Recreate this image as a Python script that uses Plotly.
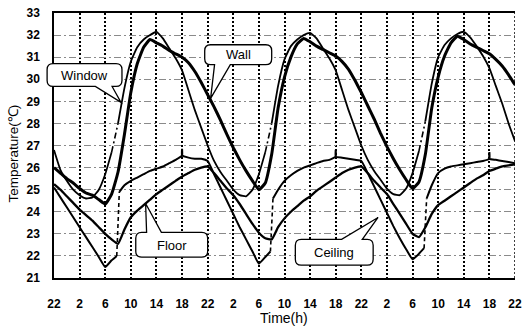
import plotly.graph_objects as go

# ---------------- data (hours from the first 22 h tick) ----------------
HOURS = list(range(73))

WINDOW = [26.8, 25.9, 25.4, 25.0, 24.75, 24.6, 24.65, 25.0, 25.7, 26.7, 28.0, 29.6,
          30.8, 31.45, 31.8, 32.0, 32.15, 31.85, 31.4, 30.95, 30.4, 29.5, 28.6, 27.8,
          27.0, 26.3, 25.8, 25.4, 25.0, 24.75, 24.7, 25.0, 25.7, 26.7, 28.0, 29.7,
          30.9, 31.5, 31.8, 32.0, 32.1, 31.85, 31.4, 30.95, 30.4, 29.5, 28.6, 27.8,
          27.0, 26.35, 25.85, 25.45, 25.05, 24.8, 24.75, 25.05, 25.75, 26.75, 28.1, 29.8,
          31.0, 31.55, 31.85, 32.05, 32.15, 31.9, 31.5, 31.05, 30.5, 29.7, 28.9, 28.0,
          27.2]

WALL = [26.0, 25.75, 25.5, 25.3, 25.05, 24.85, 24.75, 24.55, 24.35, 24.8, 25.8, 27.5,
        29.4, 30.7, 31.45, 31.8, 31.65, 31.5, 31.3, 31.15, 31.0, 30.75, 30.35, 29.85,
        29.3, 28.75, 28.15, 27.5, 26.9, 26.35, 25.85, 25.4, 25.0, 25.3, 26.6, 28.7,
        30.1, 31.0, 31.6, 31.85, 31.7, 31.5, 31.35, 31.2, 31.05, 30.8, 30.45, 29.95,
        29.4, 28.8, 28.2, 27.55, 26.95, 26.4, 25.9, 25.45, 25.05, 25.35, 26.6, 28.7,
        30.1, 31.05, 31.65, 31.95, 31.8, 31.6, 31.45, 31.3, 31.15, 30.9, 30.6, 30.2,
        29.75]

FLOOR = [25.25, 25.0, 24.7, 24.4, 24.1, 23.85, 23.6, 23.3, 23.0, 22.75, 22.55, 23.2,
         23.75, 24.05, 24.3, 24.55, 24.8, 25.0, 25.2, 25.4, 25.6, 25.75, 25.9, 26.0,
         26.05, 25.75, 25.4, 25.05, 24.75, 24.35, 23.9, 23.45, 23.05, 22.8, 22.75, 23.3,
         23.7, 24.0, 24.25, 24.5, 24.7, 24.95, 25.15, 25.35, 25.55, 25.75, 25.9, 26.0,
         26.05, 25.75, 25.4, 25.1, 24.8, 24.35, 23.9, 23.45, 23.0, 22.85, 23.3, 23.9,
         24.3, 24.5, 24.7, 24.9, 25.1, 25.3, 25.5, 25.65, 25.85, 25.95, 26.05, 26.1,
         26.15]

CEIL_T = [0, 1, 2, 3, 4, 5, 6, 7, 8, 9, 9.8, 10.2, 11, 12, 13, 14, 15, 16, 17, 18, 19,
          20, 20, 20, 21, 22, 23,
          24, 25, 26, 27, 28, 29, 30, 31, 32, 33, 33.8, 34.2, 35, 36, 37, 38, 39, 40, 41,
          42, 43, 44, 44, 44, 45, 46, 47,
          48, 49, 50, 51, 52, 53, 54, 55, 56, 57, 57.8, 58.2, 59, 60, 61, 62, 63, 64, 65,
          66, 67, 68, 68, 68, 69, 70, 71, 72]
CEILING = [25.1, 24.65, 24.2, 23.75, 23.3, 22.85, 22.4, 21.95, 21.5, 21.8, 22.0, 24.9,
           25.2, 25.4, 25.55, 25.7, 25.85, 25.95, 26.05, 26.2, 26.35,
           26.55, 26.85, 26.55, 26.45, 26.4, 26.4,
           26.3, 25.7, 25.1, 24.5, 23.9, 23.3, 22.75, 22.2, 21.65, 21.95, 22.2, 24.6,
           25.0, 25.4, 25.65, 25.85, 26.0, 26.1, 26.2, 26.3, 26.35,
           26.5, 26.8, 26.5, 26.45, 26.4, 26.35,
           26.3, 25.75, 25.15, 24.55, 23.95, 23.35, 22.8, 22.3, 21.85, 22.1, 22.35, 24.6,
           25.2, 25.75, 25.95, 26.05, 26.1, 26.15, 26.2, 26.25, 26.3,
           26.4, 26.7, 26.4, 26.35, 26.3, 26.25, 26.2]

X_TICKS = list(range(0, 73, 4))
X_LABELS = ['22', '2', '6', '10', '14', '18', '22', '2', '6', '10', '14', '18',
            '22', '2', '6', '10', '14', '18', '22']
Y_TICKS = list(range(21, 34))

WINDOW_DASH = [(9, 10), (33, 34), (57, 58)]
CEIL_DASH = [(9.8, 10.2), (33.8, 34.2), (57.8, 58.2)]

# ---------------- layout geometry (pixels) ----------------
W, H = 528, 329
L, R, T, B = 54, 522, 11, 278

FONT = 'Arial, Liberation Sans'


def px(x, y):
    return (x - L) / (R - L), (B - y) / (B - T)


def split_line(xs, ys, ranges):
    solid = ([], [])
    dashed = ([], [])
    last = None
    for i in range(len(xs) - 1):
        mid = (xs[i] + xs[i + 1]) / 2
        grp = dashed if any(a < mid < b for a, b in ranges) else solid
        if last is not grp:
            if grp[0]:
                grp[0].append(None)
                grp[1].append(None)
            grp[0].append(xs[i])
            grp[1].append(ys[i])
        grp[0].append(xs[i + 1])
        grp[1].append(ys[i + 1])
        last = grp
    return solid, dashed


fig = go.Figure()


def add(xs, ys, width, dash='solid'):
    fig.add_trace(go.Scatter(x=xs, y=ys, mode='lines', showlegend=False,
                             line=dict(color='black', width=width, dash=dash,
                                       shape='spline', smoothing=0.4),
                             connectgaps=False, hoverinfo='skip'))


add(HOURS, FLOOR, 2.3)
s, d = split_line(CEIL_T, CEILING, CEIL_DASH)
add(s[0], s[1], 2.0)
add(d[0], d[1], 1.6, '4px,3px')
add(HOURS, WALL, 3.0)
s, d = split_line(HOURS, WINDOW, WINDOW_DASH)
add(s[0], s[1], 1.8)
add(d[0], d[1], 1.6, '6px,3px,2px,3px')


def callout(x0, y0, x1, y1, r, side, b0, b1, tip):
    """Rounded box with a speech-bubble tail; coordinates in pixels."""

    def P(x, y):
        a, b = px(x, y)
        return f'{a:.5f},{b:.5f}'

    path = f'M {P(x0 + r, y0)} '
    if side == 'top':
        path += f'L {P(b0, y0)} L {P(*tip)} L {P(b1, y0)} '
    path += f'L {P(x1 - r, y0)} Q {P(x1, y0)} {P(x1, y0 + r)} '
    path += f'L {P(x1, y1 - r)} Q {P(x1, y1)} {P(x1 - r, y1)} '
    if side == 'bottom':
        path += f'L {P(b1, y1)} L {P(*tip)} L {P(b0, y1)} '
    path += f'L {P(x0 + r, y1)} Q {P(x0, y1)} {P(x0, y1 - r)} '
    path += f'L {P(x0, y0 + r)} Q {P(x0, y0)} {P(x0 + r, y0)} Z'
    fig.add_shape(type='path', path=path, xref='paper', yref='paper',
                  line=dict(color='black', width=1.3), fillcolor='white', layer='above')


def label(text, x, y, size=13, angle=0):
    a, b = px(x, y)
    fig.add_annotation(text=text, x=a, y=b, xref='paper', yref='paper', showarrow=False,
                       textangle=angle,
                       font=dict(family=FONT, size=size, color='black'),
                       xanchor='center', yanchor='middle')


callout(47, 62, 123, 85, 6, 'bottom', 96, 113, (122, 101))
label('Window', 85, 74)
callout(207, 43, 275, 63, 6, 'bottom', 217, 233, (213, 97))
label('Wall', 241, 53)
callout(137, 232, 210, 257, 6, 'top', 148, 163, (147, 203))
label('Floor', 174, 245)
callout(299, 239, 378, 265, 6, 'top', 346, 367, (383, 217))
label('Ceiling', 338, 252)

# axis titles
label('Temperature(℃)', 13, 153, size=13.5, angle=-90)
label('Time(h)', 287, 318, size=14)

# right border (dotted like the grid)
fig.add_shape(type='line', x0=72, x1=72, y0=21, y1=33, xref='x', yref='y',
              line=dict(color='black', width=1.5, dash='2px,2px'), layer='below')

tickfont = dict(family=FONT, size=12, color='black', weight='bold')
fig.update_layout(
    width=W, height=H, paper_bgcolor='white', plot_bgcolor='white',
    margin=dict(l=L, r=W - R, t=T, b=H - B),
    xaxis=dict(range=[0, 72], tickvals=X_TICKS, ticktext=X_LABELS, tickfont=tickfont,
               showgrid=True, gridcolor='black', gridwidth=1.5, griddash='2px,2px',
               showline=True, linecolor='black', linewidth=1.5, mirror=True,
               ticks='', ticklabelstandoff=14, ticklabeloverflow='allow',
               zeroline=False, fixedrange=True),
    yaxis=dict(range=[21, 33], tickvals=Y_TICKS, tickfont=tickfont,
               showgrid=True, gridcolor='#8a8a8a', gridwidth=1, griddash='7px,3px,2px,3px',
               showline=True, linecolor='black', linewidth=1.5, mirror=False,
               ticks='', ticklabelstandoff=10, zeroline=False, fixedrange=True),
)

fig.write_html('out.html')
